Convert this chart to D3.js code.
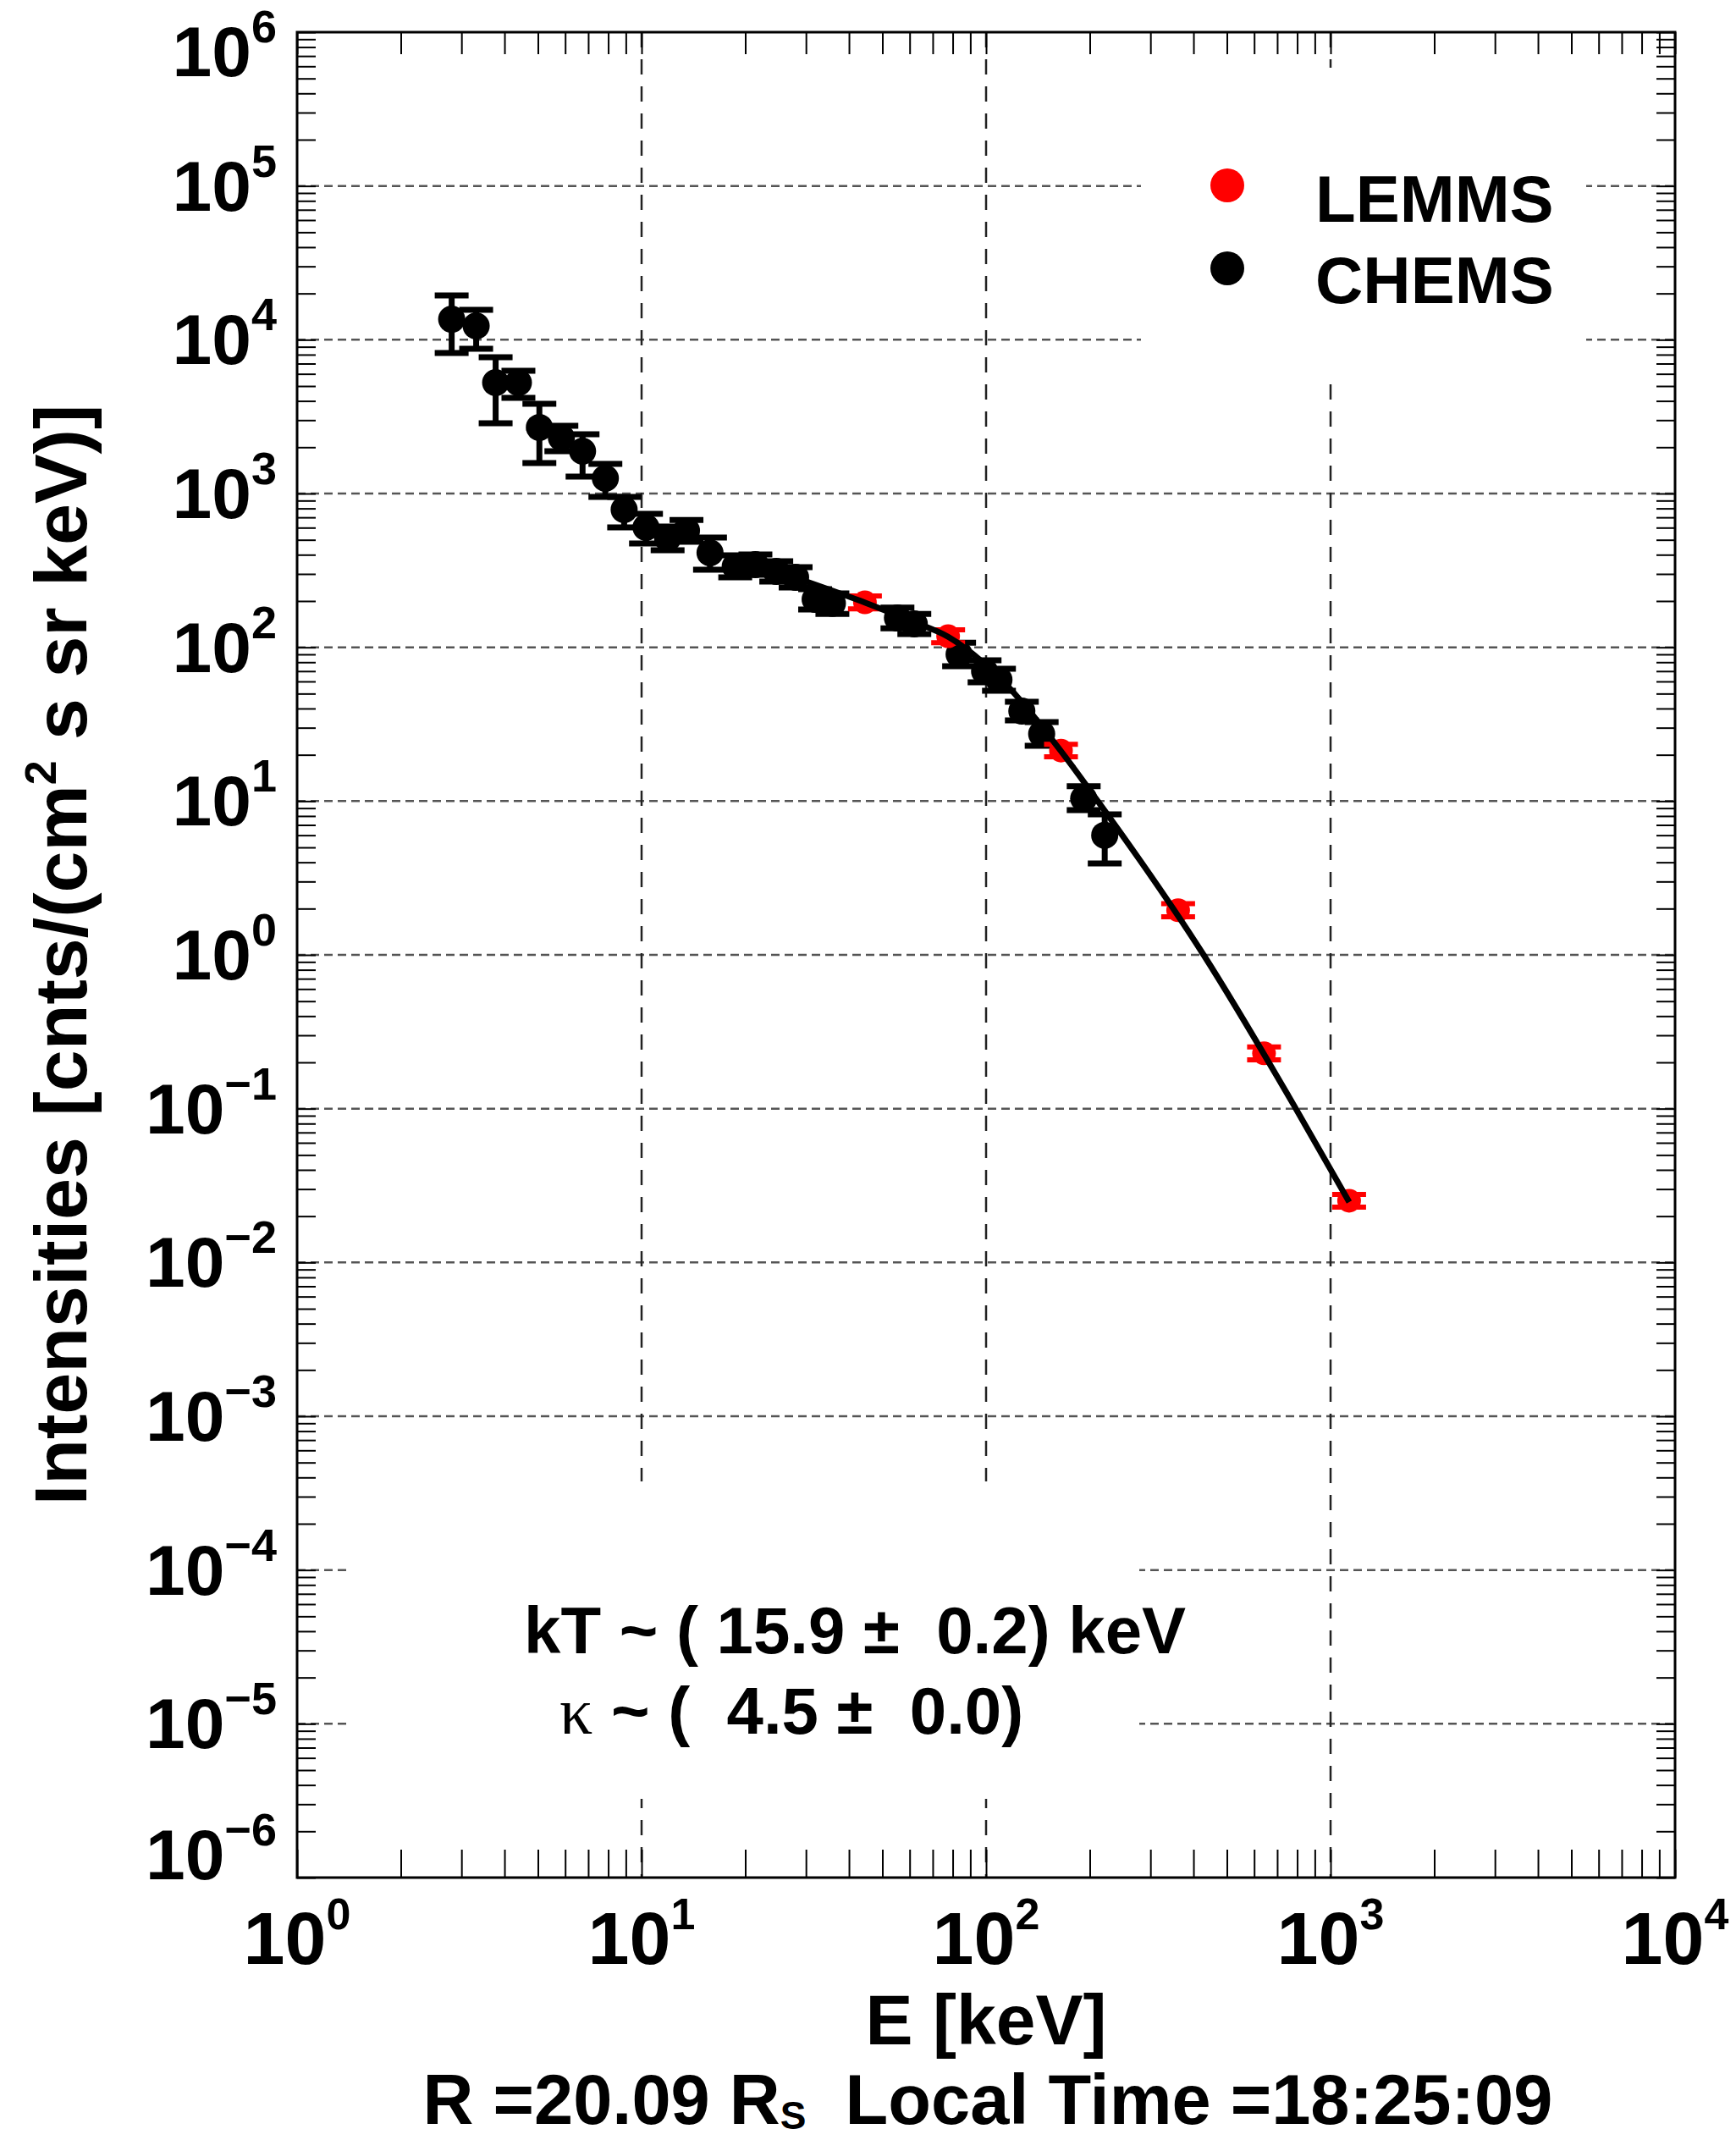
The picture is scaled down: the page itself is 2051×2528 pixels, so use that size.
<!DOCTYPE html>
<html>
<head>
<meta charset="utf-8">
<script src="https://cdn.jsdelivr.net/npm/d3@7"></script>
<style>
  html, body { margin: 0; padding: 0; background: #fff; }
  svg text { font-family: "Liberation Sans", Arial, Helvetica, sans-serif; font-weight: bold; fill: #000; white-space: pre; }
</style>
</head>
<body>
<svg id="chart"></svg>
<script>
// CHEMS points (keV, intensity, lower / upper error)
const chemsE  = [2.81, 3.31, 3.77, 4.39, 5.05, 5.85, 6.74, 7.85, 8.90, 10.3, 11.9, 13.5, 15.8, 18.7, 21.4, 24.6, 28.0, 31.9, 35.8, 55.3, 61.9, 83.5, 99.0, 109, 127, 145, 192, 221];
const chemsI  = [13600, 12300, 5260, 5260, 2690, 2310, 1885, 1256, 786, 602, 511, 573, 412, 336, 345, 312, 285, 205, 193, 155, 142, 90.0, 69.8, 61.5, 38.5, 27.3, 10.4, 6.0];
const chemsLo = [8200, 8740, 2860, 4190, 1580, 1885, 1290, 950, 602, 473, 428, 486, 320, 285, 296, 268, 245, 176, 165, 133, 122, 75.4, 59.2, 52.2, 33.5, 22.9, 8.74, 3.93];
const chemsHi = [19400, 15650, 7700, 6290, 3830, 2760, 2430, 1558, 950, 738, 610, 672, 517, 397, 402, 363, 332, 239, 224, 181, 165, 107, 82.3, 72.5, 44.3, 32.6, 12.5, 8.2];

// LEMMS points
const lemmsE  = [44.5, 77.6, 165, 361, 641, 1132];
const lemmsI  = [196, 118, 21.3, 1.95, 0.229, 0.0252];
const lemmsLo = [178, 107, 19.4, 1.77, 0.208, 0.0229];
const lemmsHi = [216, 130, 23.4, 2.15, 0.252, 0.0277];

// kappa fit
const fitE = [27.3, 44.6, 60.2, 77.6, 109, 162, 211, 428, 793, 1133];
const fitI = [289, 195, 149, 117, 63.9, 22.3, 10, 1, 0.1, 0.0247];

// tick label exponents
const xTickExps = [0, 1, 2, 3, 4];
const yTickExps = [6, 5, 4, 3, 2, 1, 0, -1, -2, -3, -4, -5, -6];

const legendItems = [
  { label: "LEMMS", color: "#ff0000" },
  { label: "CHEMS", color: "#000000" }
];

const W = 2051, H = 2528;
const xL = 351, xR = 1979, yT = 38, yB = 2218;

const svg = d3.select("#chart").attr("width", W).attr("height", H);
svg.append("rect").attr("width", W).attr("height", H).attr("fill", "#fff");

const x = d3.scaleLog().domain([1, 1e4]).range([xL, xR]);
const y = d3.scaleLog().domain([1e-6, 1e6]).range([yB, yT]);

const minor = (lo, hi) => {
  const out = [];
  for (let e = lo; e < hi; e++) for (let k = 1; k < 10; k++) out.push(k * Math.pow(10, e));
  out.push(Math.pow(10, hi));
  return out;
};

// grid
const g = svg.append("g");
g.selectAll(".hgrid")
  .data(yTickExps.filter(e => e > -6 && e < 6))
  .enter().append("line")
  .attr("x1", xL).attr("x2", xR)
  .attr("y1", e => y(Math.pow(10, e))).attr("y2", e => y(Math.pow(10, e)))
  .attr("stroke", "#555").attr("stroke-width", 2.5)
  .attr("stroke-dasharray", "10,6");

g.selectAll(".vgrid")
  .data(xTickExps.filter(e => e > 0 && e < 4))
  .enter().append("line")
  .attr("y1", yT).attr("y2", yB)
  .attr("x1", e => x(Math.pow(10, e))).attr("x2", e => x(Math.pow(10, e)))
  .attr("stroke", "#222").attr("stroke-width", 2.5)
  .attr("stroke-dasharray", "18,14");

// white boxes behind legend and fit text
g.append("rect").attr("x", 1348).attr("y", 80).attr("width", 526).attr("height", 363).attr("fill", "#fff");
g.append("rect").attr("x", 411).attr("y", 1750).attr("width", 935).attr("height", 375).attr("fill", "#fff");

// ticks
const yMinor = minor(-6, 6);
const xMinor = minor(0, 4);
const styleAxis = sel => {
  sel.select(".domain").remove();
  sel.selectAll("line").attr("stroke", "#000").attr("stroke-width", 2);
};
svg.append("g").attr("transform", `translate(${xL},0)`)
  .call(d3.axisLeft(y).tickValues(yMinor).tickSize(-22).tickFormat(""))
  .call(styleAxis);
svg.append("g").attr("transform", `translate(${xR},0)`)
  .call(d3.axisRight(y).tickValues(yMinor).tickSize(-22).tickFormat(""))
  .call(styleAxis);
svg.append("g").attr("transform", `translate(0,${yB})`)
  .call(d3.axisBottom(x).tickValues(xMinor).tickSize(-33).tickFormat(""))
  .call(styleAxis);
svg.append("g").attr("transform", `translate(0,${yT})`)
  .call(d3.axisTop(x).tickValues(xMinor).tickSize(-26).tickFormat(""))
  .call(styleAxis);

// frame
svg.append("rect")
  .attr("x", xL).attr("y", yT)
  .attr("width", xR - xL).attr("height", yB - yT)
  .attr("fill", "none").attr("stroke", "#000").attr("stroke-width", 3);

// tick labels
const expText = e => e < 0 ? "\u2212" + (-e) : String(e);

yTickExps.forEach(e => {
  const yy = Math.max(90, Math.min(2220, y(Math.pow(10, e)) + 29));
  const t = svg.append("text")
    .attr("x", 327).attr("y", yy)
    .attr("text-anchor", "end")
    .style("font-size", "84px");
  t.append("tspan").text("10");
  t.append("tspan").attr("dy", -40).style("font-size", "54px").text(expText(e));
});

xTickExps.forEach(e => {
  const t = svg.append("text")
    .attr("x", x(Math.pow(10, e))).attr("y", 2320)
    .attr("text-anchor", "middle")
    .style("font-size", "88px");
  t.append("tspan").text("10");
  t.append("tspan").attr("dy", -41).style("font-size", "52px").text(expText(e));
});

// data
const chems = chemsE.map((e, i) => ({ e, i: chemsI[i], lo: chemsLo[i], hi: chemsHi[i] }));
const lemms = lemmsE.map((e, i) => ({ e, i: lemmsI[i], lo: lemmsLo[i], hi: lemmsHi[i] }));

function drawSeries(data, color, r, sw, cap) {
  const s = svg.append("g");
  const pts = s.selectAll("g").data(data).enter().append("g");
  pts.append("line")
    .attr("x1", d => x(d.e)).attr("x2", d => x(d.e))
    .attr("y1", d => y(d.hi)).attr("y2", d => y(d.lo))
    .attr("stroke", color).attr("stroke-width", sw);
  ["hi", "lo"].forEach(k => {
    pts.append("line")
      .attr("x1", d => x(d.e) - cap).attr("x2", d => x(d.e) + cap)
      .attr("y1", d => y(d[k])).attr("y2", d => y(d[k]))
      .attr("stroke", color).attr("stroke-width", sw);
  });
  pts.append("circle")
    .attr("cx", d => x(d.e)).attr("cy", d => y(d.i))
    .attr("r", r).attr("fill", color);
}
drawSeries(chems, "#000", 16, 7, 20);
drawSeries(lemms, "#ff0000", 14, 6, 20);

// fit line
const fit = fitE.map((e, i) => ({ e, i: fitI[i] }));
svg.append("path")
  .datum(fit)
  .attr("fill", "none").attr("stroke", "#000").attr("stroke-width", 7)
  .attr("d", d3.line().x(d => x(d.e)).y(d => y(d.i)).curve(d3.curveMonotoneX));

// legend
legendItems.forEach((d, i) => {
  svg.append("circle").attr("cx", 1450).attr("cy", 219 + i * 98).attr("r", 20).attr("fill", d.color);
  svg.append("text").attr("x", 1554).attr("y", 262 + i * 96)
    .style("font-size", "78px").text(d.label);
});

// fit parameters
svg.append("text").attr("x", 619).attr("y", 1953)
  .attr("xml:space", "preserve")
  .style("font-size", "78px")
  .text("kT ~ ( 15.9 \u00b1  0.2) keV");
const k2 = svg.append("text").attr("x", 661).attr("y", 2048)
  .attr("xml:space", "preserve")
  .style("font-size", "78px");
k2.append("tspan").style("font-family", "'Liberation Serif', 'DejaVu Serif', serif").style("font-weight", "normal").text("\u03ba");
k2.append("tspan").text(" ~ (  4.5 \u00b1  0.0)");

// axis titles
const yt = svg.append("text")
  .attr("transform", "translate(102,1128) rotate(-90)")
  .attr("text-anchor", "middle")
  .style("font-size", "88px");
yt.append("tspan").text("Intensities [cnts/(cm");
yt.append("tspan").attr("dy", -36).style("font-size", "52px").text("2");
yt.append("tspan").attr("dy", 36).text(" s sr keV)]");

svg.append("text").attr("x", 1165).attr("y", 2415)
  .attr("text-anchor", "middle").style("font-size", "84px").text("E [keV]");

const rt = svg.append("text").attr("x", 1167).attr("y", 2509)
  .attr("text-anchor", "middle")
  .attr("xml:space", "preserve")
  .style("font-size", "83px");
rt.append("tspan").text("R =20.09 R");
rt.append("tspan").attr("dy", 6).style("font-size", "46px").text("S");
rt.append("tspan").attr("dy", -6).text("  Local Time =18:25:09");
</script>
</body>
</html>
